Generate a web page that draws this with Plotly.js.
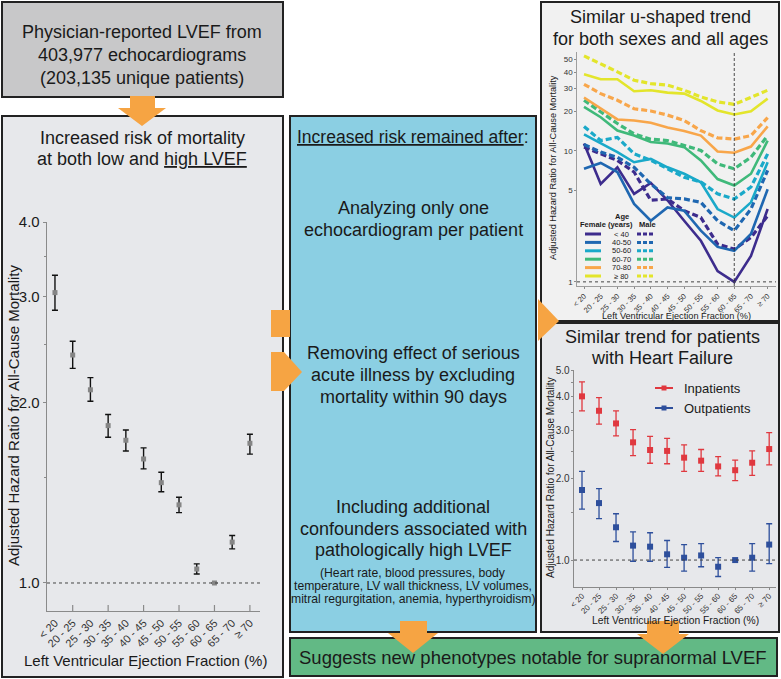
<!DOCTYPE html>
<html>
<head>
<meta charset="utf-8">
<script src="https://cdn.plot.ly/plotly-3.0.1.min.js"></script>
<style>
  html, body { margin: 0; padding: 0; background: #fff; }
  #chart { width: 781px; height: 679px; }
</style>
</head>
<body>
<div id="chart"></div>
<script>
// ---- data ----
var lvefBins = ['< 20', '20 - 25', '25 - 30', '30 - 35', '35 - 40', '40 - 45', '45 - 50', '50 - 55', '55 - 60', '60 - 65', '65 - 70', '≥ 70'];
var refBin = '60 - 65';
var refHR = 1;

// all echocardiograms
var hrAll     = [3.05, 2.40, 2.10, 1.83, 1.73, 1.61, 1.47, 1.35, 1.055, 1.0, 1.17, 1.71];
var hrAllLow  = [2.85, 2.28, 2.01, 1.75, 1.66, 1.55, 1.42, 1.31, 1.035, 1.0, 1.14, 1.64];
var hrAllHigh = [3.26, 2.53, 2.20, 1.91, 1.80, 1.68, 1.53, 1.39, 1.076, 1.0, 1.20, 1.77];

// by sex and age
var ageGroups = ['< 40', '40-50', '50-60', '60-70', '70-80', '≥ 80'];
var ageColors = ['#3d2c8d', '#1f67b1', '#1aa9c9', '#3fb97a', '#f8a64a', '#e3e52b'];
var hrFemale = [
  [11.4, 5.6, 7.5, 4.7, 5.7, 4.2, 2.93, 2.06, 1.21, 1.0, 1.58, 3.6],
  [7.3, 8.1, 6.9, 3.94, 2.93, 3.7, 3.5, 2.46, 1.85, 1.73, 2.32, 5.1],
  [13.4, 11.4, 9.8, 8.2, 8.7, 7.5, 6.7, 5.77, 3.6, 3.1, 4.05, 8.2],
  [21.7, 18.1, 14.3, 13.1, 11.7, 11.4, 10.7, 8.46, 6.1, 5.44, 6.7, 12.0],
  [25.6, 21.0, 17.4, 17.1, 16.4, 15.1, 14.2, 13.1, 9.9, 9.7, 10.8, 15.4],
  [38.6, 35.3, 35.3, 28.6, 29.1, 27.9, 27.4, 24.1, 20.4, 19.0, 20.1, 25.1]
];
var hrMale = [
  [10.7, 9.5, 8.46, 6.9, 4.2, 4.3, 3.5, 3.1, 1.94, 1.78, 2.18, 3.2],
  [11.2, 9.8, 8.95, 7.5, 5.6, 4.4, 4.3, 4.05, 2.93, 2.46, 3.6, 7.1],
  [15.4, 12.0, 12.7, 9.5, 8.5, 7.3, 6.3, 5.8, 4.7, 4.3, 5.3, 9.5],
  [24.4, 19.8, 16.2, 13.5, 12.3, 12.0, 11.0, 10.1, 7.97, 7.3, 8.95, 13.1],
  [32.3, 27.4, 24.4, 21.0, 20.2, 18.8, 17.1, 14.3, 12.6, 12.3, 13.1, 18.0],
  [53.2, 46.6, 40.2, 34.7, 32.7, 31.8, 29.1, 25.9, 23.7, 22.7, 25.9, 29.1]
];

// heart failure
var hfIn      = [4.00, 3.54, 3.18, 2.71, 2.54, 2.52, 2.38, 2.32, 2.21, 2.14, 2.28, 2.56];
var hfInLow   = [3.54, 3.16, 2.86, 2.42, 2.27, 2.26, 2.12, 2.12, 2.04, 1.96, 2.05, 2.24];
var hfInHigh  = [4.52, 3.96, 3.54, 3.02, 2.85, 2.80, 2.65, 2.55, 2.40, 2.33, 2.52, 2.94];
var hfOut     = [1.81, 1.62, 1.32, 1.13, 1.12, 1.05, 1.02, 1.04, 0.945, 1.0, 1.02, 1.14];
var hfOutLow  = [1.54, 1.42, 1.17, 0.99, 0.99, 0.94, 0.91, 0.945, 0.87, 1.0, 0.91, 0.97];
var hfOutHigh = [2.12, 1.83, 1.48, 1.27, 1.26, 1.18, 1.14, 1.15, 1.02, 1.0, 1.15, 1.36];
var hfNames  = ['Inpatients', 'Outpatients'];
var hfColors = ['#e0383f', '#2e4f9c'];

var xTitle = 'Left Ventricular Ejection Fraction (%)';
var yTitle = 'Adjusted Hazard Ratio for All-Cause Mortality';

// ---- helpers ----
var W = 781, H = 679;
var FONT = 'Liberation Sans, Arial, sans-serif';
var INK = '#1a1a1a';
var ORANGE = '#f6a443';
function px(x) { return x / W; }
function py(y) { return 1 - y / H; }

var idx = lvefBins.map(function (b, i) { return i; });
var refIdx = lvefBins.indexOf(refBin);

function errUp(v, hi) { return hi.map(function (h, i) { return h - v[i]; }); }
function errDown(v, lo) { return lo.map(function (l, i) { return v[i] - l; }); }

var shapes = [];
var annotations = [];

function box(x0, y0, x1, y1, fill) {
  shapes.push({type: 'rect', xref: 'paper', yref: 'paper', layer: 'below',
    x0: px(x0), x1: px(x1), y0: py(y1), y1: py(y0),
    fillcolor: fill, line: {color: '#222', width: 2}});
}
function arrow(pts) {
  var d = pts.map(function (p, i) { return (i ? 'L' : 'M') + px(p[0]) + ',' + py(p[1]); }).join(' ') + ' Z';
  shapes.push({type: 'path', xref: 'paper', yref: 'paper', layer: 'above', path: d,
    fillcolor: ORANGE, line: {width: 0}});
}
function text(lines, x, y, dy, size, opts) {
  lines.forEach(function (t, i) {
    var a = {text: t, x: px(x), y: py(y + i * dy), xref: 'paper', yref: 'paper',
      showarrow: false, xanchor: 'center', yanchor: 'middle',
      font: {family: FONT, size: size, color: INK}};
    if (opts) for (var k in opts) a[k] = opts[k];
    annotations.push(a);
  });
}
function hline(x0, x1, y, color, width, dash) {
  shapes.push({type: 'line', xref: 'paper', yref: 'paper', layer: 'above',
    x0: px(x0), x1: px(x1), y0: py(y), y1: py(y), line: {color: color, width: width, dash: dash || 'solid'}});
}

// ---- boxes ----
box(2, 2, 283, 97, '#c8c8c9');
box(2, 116, 283, 677, '#e7e8eb');
box(290, 116, 536, 632, '#8bcfe3');
box(541, 2, 779, 321, '#f1f1f1');
box(541, 323, 779, 632, '#e7e8eb');
box(290, 638, 777, 676, '#62b985');

// ---- arrows ----
arrow([[130, 96], [155, 96], [155, 108], [166, 108], [142, 126], [118, 108], [130, 108]]);
arrow([[271, 310], [290, 310], [290, 337], [271, 337]]);
arrow([[271, 352], [284, 352], [302, 372], [284, 391], [271, 391]]);
arrow([[538, 299], [559, 321], [538, 341]]);
arrow([[400, 621], [427, 621], [427, 633], [438, 633], [413, 653], [388, 633], [400, 633]]);
arrow([[647, 621], [679, 621], [679, 634], [689, 634], [663, 654], [637, 634], [647, 634]]);

// ---- box texts ----
text(['Physician-reported LVEF from', '403,977 echocardiograms', '(203,135 unique patients)'], 142, 32, 23, 18);
text(['Increased risk of mortality', 'at both low and <u>high LVEF</u>'], 142, 138, 21, 18);
text(['<u>Increased risk remained after</u>:'], 413, 137, 0, 17.5);
text(['Analyzing only one', 'echocardiogram per patient'], 413, 208, 22, 18);
text(['Removing effect of serious', 'acute illness by excluding', 'mortality within 90 days'], 413, 353, 22, 18);
text(['Including additional', 'confounders associated with', 'pathologically high LVEF'], 413, 507, 21.5, 18);
text(['(Heart rate, blood pressures, body', 'temperature, LV wall thickness, LV volumes,', 'mitral regurgitation, anemia, hyperthyroidism)'], 413, 573, 13, 12.2);
text(['Similar u-shaped trend', 'for both sexes and all ages'], 660, 17, 22, 18);
text(['Similar trend for patients', 'with Heart Failure'], 662, 337, 21, 18);
text(['Suggests new phenotypes notable for supranormal LVEF'], 533, 657, 0, 18.5);

// ---- axis titles ----
text([xTitle], 145, 660, 0, 15);
text([yTitle], 13, 416, 0, 15, {textangle: -90});
text([xTitle], 676, 316, 0, 9.2);
text([yTitle], 553, 168, 0, 9.2, {textangle: -90});
text([xTitle], 675, 620, 0, 10.3);
text([yTitle], 550, 478, 0, 10, {textangle: -90});

// ---- traces ----
var data = [];

// panel 1: all patients
data.push({
  x: idx, y: hrAll, xaxis: 'x', yaxis: 'y', type: 'scatter', mode: 'markers',
  marker: {symbol: 'square', size: 5, color: '#858585'},
  error_y: {type: 'data', symmetric: false, array: errUp(hrAll, hrAllHigh), arrayminus: errDown(hrAll, hrAllLow),
    color: '#111', thickness: 1.4, width: 3},
  showlegend: false, hoverinfo: 'none'
});

// panel 2: sex and age
ageGroups.forEach(function (g, k) {
  data.push({x: idx, y: hrFemale[k], xaxis: 'x2', yaxis: 'y2', type: 'scatter', mode: 'lines',
    line: {color: ageColors[k], width: 2.6}, showlegend: false, hoverinfo: 'none'});
  data.push({x: idx, y: hrMale[k], xaxis: 'x2', yaxis: 'y2', type: 'scatter', mode: 'lines',
    line: {color: ageColors[k], width: 3.2, dash: '6px,3px'}, showlegend: false, hoverinfo: 'none'});
});

// panel 3: heart failure
[[hfIn, hfInLow, hfInHigh], [hfOut, hfOutLow, hfOutHigh]].forEach(function (s, k) {
  data.push({
    x: idx, y: s[0], xaxis: 'x3', yaxis: 'y3', type: 'scatter', mode: 'markers', name: hfNames[k],
    marker: {symbol: 'square', size: 6, color: hfColors[k]},
    error_y: {type: 'data', symmetric: false, array: errUp(s[0], s[2]), arrayminus: errDown(s[0], s[1]),
      color: hfColors[k], thickness: 1.3, width: 3},
    showlegend: false, hoverinfo: 'none'
  });
});

// reference lines (HR = 1, reference LVEF bin)
['', '2', '3'].forEach(function (n) {
  shapes.push({type: 'line', xref: 'x' + n + ' domain', yref: 'y' + n, x0: 0, x1: 1, y0: refHR, y1: refHR,
    line: {color: '#444', width: 1, dash: 'dot'}, layer: 'above'});
});
shapes.push({type: 'line', xref: 'x2', yref: 'y2 domain', x0: refIdx, x1: refIdx, y0: 0, y1: 1,
  line: {color: '#222', width: 0.8, dash: '3px,2px'}, layer: 'above'});

// panel 1 x tick marks on every other bin
idx.forEach(function (i) {
  if (i % 2 === 1) {
    shapes.push({type: 'line', xref: 'x', yref: 'paper', x0: i, x1: i, y0: py(611), y1: py(605),
      line: {color: '#8a8a8a', width: 1.2}});
  }
});

// ---- panel 2 legend ----
text(['<b>Age</b>'], 622, 216, 0, 7.5);
text(['<b>Female (years)</b>'], 606, 225, 0, 7.5);
text(['<b>Male</b>'], 647, 225, 0, 7.5);
ageGroups.forEach(function (g, k) {
  var y = 234 + k * 8.4;
  hline(585, 601, y, ageColors[k], 3);
  hline(637, 654, y, ageColors[k], 3, '4px,2px');
  text([g], 621, y, 0, 7.5);
});

// ---- panel 3 legend ----
hfNames.forEach(function (n, k) {
  var y = 388 + k * 20;
  hline(655, 673, y, hfColors[k], 2);
  shapes.push({type: 'rect', xref: 'paper', yref: 'paper', layer: 'above',
    x0: px(661.5), x1: px(666.5), y0: py(y + 2.5), y1: py(y - 2.5), fillcolor: hfColors[k], line: {width: 0}});
  text([n], 682, y, 0, 13, {xanchor: 'left'});
});

// ---- axes ----
var axBase = {showgrid: false, zeroline: false, showline: true, linecolor: '#8a8a8a', linewidth: 1.3,
  tickcolor: '#8a8a8a', fixedrange: true};
function ax(o) { var a = {}; for (var k in axBase) a[k] = axBase[k]; for (var k2 in o) a[k2] = o[k2]; return a; }

var layout = {
  width: W, height: H,
  margin: {l: 0, r: 0, t: 0, b: 0},
  paper_bgcolor: '#fff', plot_bgcolor: 'rgba(0,0,0,0)',
  font: {family: FONT, color: INK},
  showlegend: false,
  xaxis: ax({domain: [px(47), px(260)], anchor: 'y', range: [-0.45, 11.57],
    tickmode: 'array', tickvals: idx, ticktext: lvefBins, tickangle: -45, ticks: '',
    tickfont: {size: 11, color: '#333'}}),
  yaxis: ax({domain: [py(611), py(222)], anchor: 'x', type: 'log', range: [Math.log10(0.898), Math.log10(4)],
    tickmode: 'array', tickvals: [1, 2, 3, 4], ticktext: ['1.0', '2.0', '3.0', '4.0'], ticks: 'outside', ticklen: 3,
    minor: {tickmode: 'array', tickvals: [1.5, 2.5, 3.5], ticks: 'outside', ticklen: 2, tickcolor: '#8a8a8a'},
    tickfont: {size: 15, color: INK}}),

  xaxis2: ax({domain: [px(577), px(776)], anchor: 'y2', range: [-0.42, 11.5], linewidth: 0.8,
    tickmode: 'array', tickvals: idx, ticktext: lvefBins, tickangle: -45, ticks: 'outside', ticklen: 2,
    tickfont: {size: 7.5, color: '#333'}}),
  yaxis2: ax({domain: [py(286), py(52)], anchor: 'x2', type: 'log', range: [Math.log10(0.93), Math.log10(57)], linewidth: 0.8,
    tickmode: 'array', tickvals: [1, 5, 10, 20, 30, 40, 50], ticktext: ['1', '5', '10', '20', '30', '40', '50'],
    ticks: 'outside', ticklen: 2, tickfont: {size: 8, color: '#333'}}),

  xaxis3: ax({domain: [px(574), px(776)], anchor: 'y3', range: [-0.47, 11.4],
    tickmode: 'array', tickvals: idx, ticktext: lvefBins, tickangle: -45, ticks: 'outside', ticklen: 2,
    ticklabelstandoff: -2, tickfont: {size: 8, color: '#333'}}),
  yaxis3: ax({domain: [py(587), py(370)], anchor: 'x3', type: 'log', range: [Math.log10(0.796), Math.log10(5)],
    tickmode: 'array', tickvals: [1, 2, 3, 4, 5], ticktext: ['1.0', '2.0', '3.0', '4.0', '5.0'], ticks: 'outside', ticklen: 2,
    minor: {tickmode: 'array', tickvals: [1.5, 2.5, 3.5, 4.5], ticks: 'outside', ticklen: 2, tickcolor: '#8a8a8a'},
    ticklabelstandoff: -1, tickfont: {size: 10, color: '#333'}}),

  shapes: shapes,
  annotations: annotations
};

Plotly.newPlot('chart', data, layout, {displayModeBar: false, staticPlot: true});
</script>
</body>
</html>
